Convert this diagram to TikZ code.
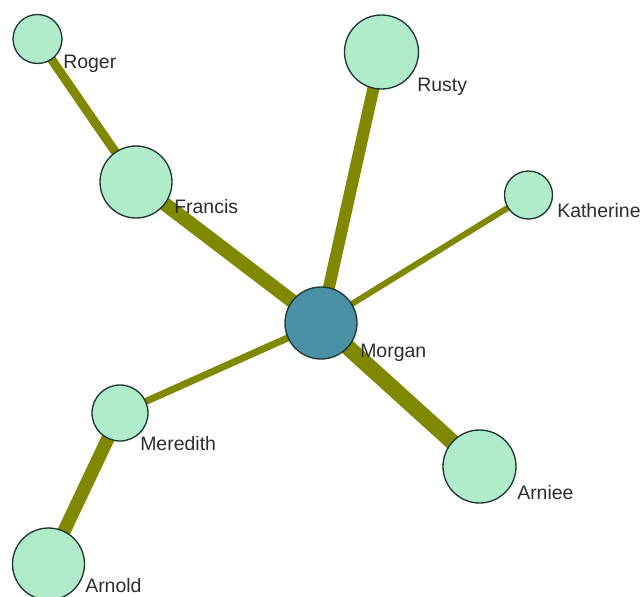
\documentclass[tikz,border=0pt]{standalone}
\usepackage{fontspec}
\setmainfont{Liberation Sans}
\usetikzlibrary{backgrounds}
\definecolor{edgecol}{RGB}{128,136,0}
\definecolor{mintcol}{RGB}{176,235,202}
\definecolor{hubcol}{RGB}{74,145,165}
\definecolor{rimcol}{RGB}{30,55,48}
\definecolor{txtcol}{RGB}{45,45,45}
\begin{document}
\begin{tikzpicture}[x=0.75pt,y=-0.75pt,
  person/.style={circle,draw=rimcol,line width=1pt,fill=mintcol,inner sep=0pt},
  hub/.style={person,fill=hubcol},
  lbl/.style={anchor=base west,inner sep=0pt,text=txtcol,font=\fontsize{14.6pt}{16pt}\selectfont},
  link/.style={draw=edgecol,line cap=butt}]
\useasboundingbox (0,0) rectangle (640,597);
\node[person,minimum size=36.75pt] (roger) at (37.5,39) {};
\node[person,minimum size=54pt] (francis) at (136,182) {};
\node[person,minimum size=55.5pt] (rusty) at (381.5,52) {};
\node[person,minimum size=36pt] (katherine) at (528.5,195) {};
\node[hub,minimum size=54pt] (morgan) at (321,323) {};
\node[person,minimum size=42pt] (meredith) at (120,413) {};
\node[person,minimum size=54.75pt] (arniee) at (479.5,466.5) {};
\node[person,minimum size=54pt] (arnold) at (48.5,564) {};
\node[lbl] (lroger) at (63,68) {Roger};
\node[lbl] (lfrancis) at (174,213) {Francis};
\node[lbl] (lrusty) at (417,91) {Rusty};
\node[lbl] (lkatherine) at (557,217) {Katherine};
\node[lbl] (lmorgan) at (360,357) {Morgan};
\node[lbl] (lmeredith) at (140,450) {Meredith};
\node[lbl] (larniee) at (517,499) {Arniee};
\node[lbl] (larnold) at (85,592) {Arnold};
\begin{pgfonlayer}{background}
\draw[link,line width=6.75pt] (roger.center) -- (francis.center);
\draw[link,line width=10.5pt] (francis.center) -- (morgan.center);
\draw[link,line width=9pt] (rusty.center) -- (morgan.center);
\draw[link,line width=4.5pt] (katherine.center) -- (morgan.center);
\draw[link,line width=5.25pt] (meredith.center) -- (morgan.center);
\draw[link,line width=10pt] (meredith.center) -- (arnold.center);
\draw[link,line width=12pt] (morgan.center) -- (arniee.center);
\end{pgfonlayer}
\end{tikzpicture}
\end{document}
